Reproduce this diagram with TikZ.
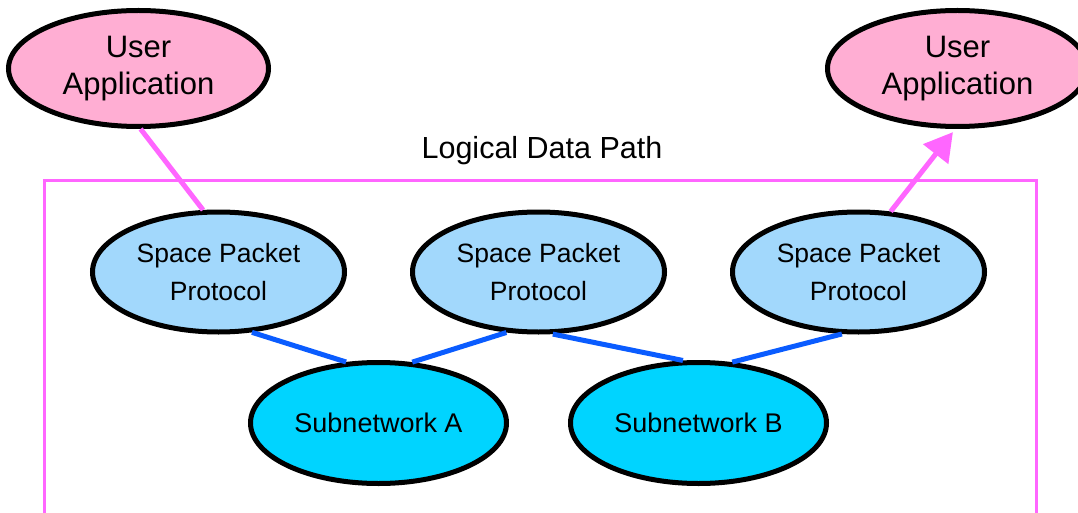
\documentclass[tikz,border=0pt]{standalone}
\usepackage{fontspec}
\setmainfont{Liberation Sans}
\usetikzlibrary{shapes.geometric,arrows.meta}
\definecolor{appfill}{HTML}{FFAED3}
\definecolor{sppfill}{HTML}{A2D8FC}
\definecolor{netfill}{HTML}{00D4FF}
\definecolor{pathpink}{HTML}{FF66FF}
\definecolor{linkblue}{HTML}{0A5CFF}
\tikzset{
  bubble/.style={ellipse, draw=black, line width=5pt, inner sep=0pt, align=center},
  appnode/.style={bubble, fill=appfill, minimum width=260pt, minimum height=116pt,
    font=\fontsize{31}{37.5}\selectfont},
  sppnode/.style={bubble, fill=sppfill, minimum width=252pt, minimum height=120pt,
    font=\fontsize{26.5}{38}\selectfont},
  netnode/.style={bubble, fill=netfill, minimum width=256pt, minimum height=121pt,
    font=\fontsize{27}{30}\selectfont},
  datapath/.style={draw=pathpink, line width=5pt},
  link/.style={draw=linkblue, line width=5pt},
  boundary/.style={draw=pathpink, line width=3pt}
}
\begin{document}
\begin{tikzpicture}[x=1pt,y=-1pt]
\useasboundingbox (0,0) rectangle (1078,513);
\clip (0,0) rectangle (1078,513);
\fill[white] (0,0) rectangle (1078,513);

% enclosing boundary of the network
\draw[boundary] (44,181) rectangle (1036,530);
\node[font=\fontsize{30.5}{34}\selectfont] (label) at (542,150.5) {Logical Data Path};

% end-user applications
\node[appnode] (ua1) at (138.5,68.5) {User\\Application};
\node[appnode] (ua2) at (957.5,68.5) {User\\Application};

% protocol entities
\node[sppnode] (spp1) at (218.5,272) {Space Packet\\Protocol};
\node[sppnode] (spp2) at (538.5,272) {Space Packet\\Protocol};
\node[sppnode] (spp3) at (858.5,272) {Space Packet\\Protocol};

% subnetworks
\node[netnode] (neta) at (378.5,423) {Subnetwork A};
\node[netnode] (netb) at (698.5,423) {Subnetwork B};

% links between protocol entities and subnetworks
\draw[link] (spp1.-61) -- (neta.118);
\draw[link] (neta.61) -- (spp2.-118);
\draw[link] (spp2.-77) -- (netb.104);
\draw[link] (netb.61) -- (spp3.-105);

% logical data path
\draw[datapath] (ua1.-88.6) -- (spp1.104.4);
\draw[datapath, -{Triangle[length=28pt,width=31pt]}, shorten >=4pt]
  (spp3.62.5) -- (ua2.-92);
\end{tikzpicture}
\end{document}
